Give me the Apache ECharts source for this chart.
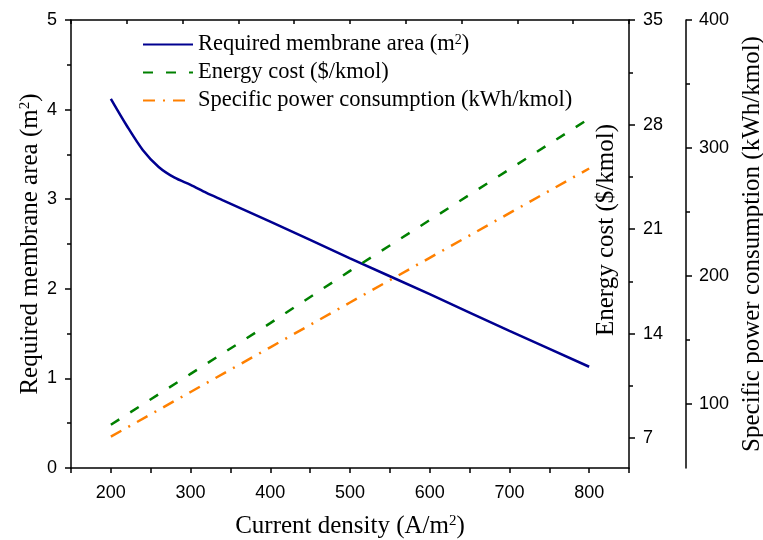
<!DOCTYPE html>
<html>
<head>
<meta charset="utf-8">
<title>Membrane area / energy cost vs current density</title>
<script src="https://cdn.jsdelivr.net/npm/echarts@6/dist/echarts.min.js"></script>
<style>
	html, body { margin: 0; padding: 0; background: #fff; }
	#chart { width: 763px; height: 540px; }
</style>
</head>
<body>
<div id="chart"></div>
<script>
/* 膜面积曲线 */
var areaX = [200, 220, 240, 260, 280, 300, 320, 340, 400, 500, 600, 700, 800];
var areaY = [4.12, 3.82, 3.55, 3.36, 3.24, 3.16, 3.07, 2.99, 2.75, 2.34, 1.94, 1.53, 1.13];
/* 能耗成本 & 比功耗 */
var lineX = [200, 300, 400, 500, 600, 700, 800];
var costY = [7.9, 11.3, 14.7, 18.2, 21.6, 25.0, 28.4];
var powerY = [74.5, 109.4, 144.3, 179.3, 214.2, 249.1, 284.0];
/* 刻度 */
var costTicks = [7, 14, 21, 28, 35];
var costMinor = [10.5, 17.5, 24.5, 31.5];
var powerTicks = [100, 200, 300, 400];
var powerMinor = [150, 250, 350];

function pairs(xs, ys) {
	var out = [];
	for (var i = 0; i < xs.length; i++) out.push([xs[i], ys[i]]);
	return out;
}

var serif = '"Liberation Serif", "DejaVu Serif", serif';
var sans = '"Liberation Sans", Arial, sans-serif';
var lineStyleAxis = { color: '#000', width: 1.5 };
var supRich = {
	sup: { fontSize: 15, verticalAlign: 'top', padding: [0, 0, 10, 0], fontFamily: serif, color: '#000' }
};
var nameFont = { fontFamily: serif, fontSize: 25, color: '#000', rich: supRich };

var chart = echarts.init(document.getElementById('chart'));
var option = {
	animation: false,
	grid: { left: 71, right: 134, top: 20, bottom: 72, containLabel: false, outerBoundsMode: 'none' },
	legend: {
		orient: 'vertical',
		left: 137,
		top: 28,
		itemWidth: 50,
		itemHeight: 14,
		itemGap: 5,
		itemStyle: { opacity: 0 },
		textStyle: { fontFamily: serif, fontSize: 22.5, color: '#000', rich: {
			sup: { fontSize: 14, verticalAlign: 'bottom', padding: [0, 0, 9, 0], fontFamily: serif, color: '#000' }
		} },
		formatter: function(name) {
			if (name === 'Required membrane area') return 'Required membrane area (m{sup|2})';
			return name;
		},
		data: ['Required membrane area', 'Energy cost ($/kmol)', 'Specific power consumption (kWh/kmol)']
	},
	xAxis: [{
		type: 'value',
		position: 'bottom',
		min: 150,
		max: 850,
		interval: 50,
		name: 'Current density (A/m{sup|2})',
		nameLocation: 'middle',
		nameGap: 46,
		nameMoveOverlap: false,
		nameTextStyle: nameFont,
		axisLine: { lineStyle: lineStyleAxis },
		axisTick: { inside: false, length: 5, lineStyle: lineStyleAxis },
		axisLabel: {
			margin: 16, fontFamily: sans, fontSize: 18, color: '#000',
			formatter: function(v) { return (v % 100 === 0 && v >= 200 && v <= 800) ? String(v) : ''; }
		},
		splitLine: { show: false }
	}, {
		type: 'value',
		position: 'top',
		min: 150,
		max: 850,
		interval: 70,
		axisLine: { lineStyle: lineStyleAxis },
		axisTick: { inside: true, length: 4, lineStyle: lineStyleAxis },
		axisLabel: { show: false },
		splitLine: { show: false }
	}],
	yAxis: [{
		type: 'value',
		position: 'left',
		min: 0,
		max: 5,
		interval: 1,
		name: 'Required membrane area (m{sup|2})',
		nameLocation: 'middle',
		nameGap: 28,
		nameMoveOverlap: false,
		nameTextStyle: nameFont,
		axisLine: { show: true, lineStyle: lineStyleAxis },
		axisTick: { show: true, length: 6, lineStyle: lineStyleAxis },
		minorTick: { show: true, splitNumber: 2, length: 4, lineStyle: lineStyleAxis },
		axisLabel: { margin: 14, fontFamily: sans, fontSize: 18, color: '#000' },
		splitLine: { show: false }
	}, {
		type: 'value',
		position: 'right',
		min: 5,
		max: 35,
		name: 'Energy cost ($/kmol)',
		nameLocation: 'middle',
		nameGap: -35,
		nameMoveOverlap: false,
		nameTextStyle: { fontFamily: serif, fontSize: 25, color: '#000', padding: [0, 0, 0, 28] },
		axisLine: { show: true, lineStyle: lineStyleAxis },
		axisTick: { show: true, length: 6, customValues: costTicks, lineStyle: lineStyleAxis },
		axisLabel: { margin: 14, fontFamily: sans, fontSize: 18, color: '#000', customValues: costTicks },
		splitLine: { show: false }
	}, {
		type: 'value',
		position: 'right',
		min: 5,
		max: 35,
		axisLine: { show: false },
		axisTick: { show: true, length: 4, customValues: costMinor, lineStyle: lineStyleAxis },
		axisLabel: { show: false },
		splitLine: { show: false }
	}, {
		type: 'value',
		position: 'right',
		offset: 57,
		min: 50,
		max: 400,
		name: 'Specific power consumption (kWh/kmol)',
		nameLocation: 'middle',
		nameGap: 54,
		nameMoveOverlap: false,
		nameTextStyle: { fontFamily: serif, fontSize: 25, color: '#000' },
		axisLine: { show: true, lineStyle: lineStyleAxis },
		axisTick: { show: true, length: 6, customValues: powerTicks, lineStyle: lineStyleAxis },
		axisLabel: { margin: 13, fontFamily: sans, fontSize: 18, color: '#000', customValues: powerTicks },
		splitLine: { show: false }
	}, {
		type: 'value',
		position: 'right',
		offset: 57,
		min: 50,
		max: 400,
		axisLine: { show: false },
		axisTick: { show: true, length: 4, customValues: powerMinor, lineStyle: lineStyleAxis },
		axisLabel: { show: false },
		splitLine: { show: false }
	}],
	series: [{
		name: 'Required membrane area',
		type: 'line',
		xAxisIndex: 0,
		yAxisIndex: 0,
		smooth: 0.3,
		symbol: 'none',
		lineStyle: { color: '#000090', width: 2.5 },
		itemStyle: { color: '#000090' },
		data: pairs(areaX, areaY)
	}, {
		name: 'Energy cost ($/kmol)',
		type: 'line',
		xAxisIndex: 0,
		yAxisIndex: 1,
		symbol: 'none',
		lineStyle: { color: '#008000', width: 2.5, type: [10, 13] },
		itemStyle: { color: '#008000' },
		data: pairs(lineX, costY)
	}, {
		name: 'Specific power consumption (kWh/kmol)',
		type: 'line',
		xAxisIndex: 0,
		yAxisIndex: 3,
		symbol: 'none',
		lineStyle: { color: '#FF8000', width: 2.5, type: [12, 8, 2, 8] },
		itemStyle: { color: '#FF8000' },
		data: pairs(lineX, powerY)
	}]
};
chart.setOption(option);
</script>
</body>
</html>
